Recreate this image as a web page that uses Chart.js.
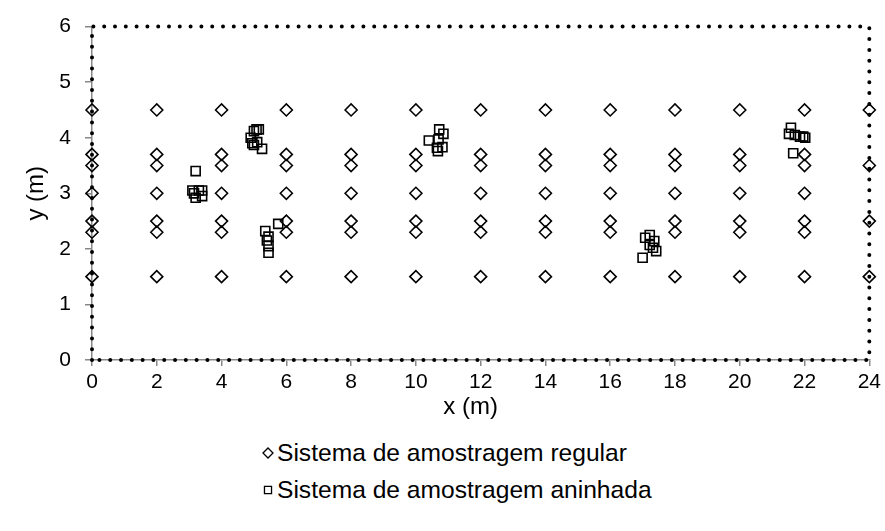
<!DOCTYPE html>
<html>
<head>
<meta charset="utf-8">
<script src="https://cdn.jsdelivr.net/npm/chart.js@4"></script>
<style>
  body { margin: 0; background: #fff; }
  #wrap { position: relative; width: 885px; height: 531px; }
  #legenda { position: absolute; left: 262px; top: 434px; font-family: "Liberation Sans", Arial, sans-serif; font-size: 24.6px; color: #000; }
  #legenda div { height: 37px; line-height: 37px; white-space: nowrap; }
  #legenda canvas { vertical-align: middle; margin-right: 3px; position: relative; top: -2px; }
</style>
</head>
<body>
<div id="wrap">
  <canvas id="grafico" width="885" height="430"></canvas>
  <div id="legenda"></div>
</div>
<script>
// posicoes do sistema regular (malha)
const colunasX = [0, 2, 4, 6, 8, 10, 12, 14, 16, 18, 20, 22];
const linhasY = [1.5, 2.3, 2.5, 3.0, 3.5, 3.7, 4.5];
const colunaBordaX = 24;
const linhasBordaY = [1.5, 2.5, 3.5, 4.5];

// sistema aninhado
const aninhadaX = [
  3.20, 3.10, 3.20, 3.30, 3.40, 3.15, 3.40,
  5.00, 5.08, 5.15, 4.90, 4.95, 5.00, 5.10, 5.25,
  5.35, 5.75, 5.45, 5.40, 5.45, 5.45,
  10.40, 10.72, 10.85, 10.70, 10.65, 10.82, 10.68,
  17.00, 17.08, 17.22, 17.36, 17.22, 17.32, 17.42,
  21.58, 21.52, 21.70, 21.86, 21.96, 22.02, 21.65
];
const aninhadaY = [
  3.40, 3.05, 2.92, 3.05, 2.95, 3.00, 3.05,
  4.12, 4.15, 4.15, 4.00, 3.90, 3.87, 3.92, 3.80,
  2.32, 2.45, 2.22, 2.15, 2.05, 1.93,
  3.95, 4.15, 4.07, 3.97, 3.82, 3.83, 3.76,
  1.84, 2.20, 2.25, 2.14, 2.07, 2.02, 1.96,
  4.18, 4.07, 4.05, 4.02, 4.02, 4.00, 3.72
];

const rotulos = ['Sistema de amostragem regular', 'Sistema de amostragem aninhada'];
const ticksX = [0, 24, 2];
const ticksY = [0, 6, 1];

const pontosRegular = [];
colunasX.forEach(x => linhasY.forEach(y => pontosRegular.push({x: x, y: y})));
linhasBordaY.forEach(y => pontosRegular.push({x: colunaBordaX, y: y}));
const pontosAninhada = aninhadaX.map((x, i) => ({x: x, y: aninhadaY[i]}));

const fonte = '"Liberation Sans", Arial, sans-serif';

// borda pontilhada da area do grafico
const bordaPontilhada = {
  id: 'bordaPontilhada',
  afterDatasetsDraw(chart) {
    const a = chart.chartArea;
    const ctx = chart.ctx;
    ctx.save();
    ctx.strokeStyle = '#000';
    ctx.lineWidth = 4;
    ctx.lineCap = 'round';
    ctx.setLineDash([0, 10.8]);
    ctx.beginPath();
    ctx.moveTo(a.left, a.bottom);
    ctx.lineTo(a.left, a.top);
    ctx.lineTo(a.right, a.top);
    ctx.lineTo(a.right, a.bottom);
    ctx.lineTo(a.left, a.bottom);
    ctx.stroke();
    ctx.restore();
  }
};

const ctx = document.getElementById('grafico').getContext('2d');
const grafico = new Chart(ctx, {
  type: 'scatter',
  data: {
    datasets: [
      {
        label: rotulos[0],
        data: pontosRegular,
        pointStyle: 'rectRot',
        pointRadius: 6,
        borderColor: '#000',
        backgroundColor: 'rgba(0,0,0,0)',
        borderWidth: 1.6,
        clip: false
      },
      {
        label: rotulos[1],
        data: pontosAninhada,
        pointStyle: 'rect',
        pointRadius: 6.4,
        borderColor: '#000',
        backgroundColor: 'rgba(0,0,0,0)',
        borderWidth: 1.6,
        clip: false
      }
    ]
  },
  plugins: [bordaPontilhada],
  options: {
    responsive: false,
    animation: false,
    layout: { padding: { top: 24, right: 15, left: 22, bottom: 8 } },
    plugins: { legend: { display: false }, tooltip: { enabled: false } },
    scales: {
      x: {
        type: 'linear',
        min: ticksX[0], max: ticksX[1],
        ticks: { stepSize: ticksX[2], color: '#000', font: { family: fonte, size: 21 }, padding: 4, maxRotation: 0 },
        grid: { drawOnChartArea: false, drawTicks: true, tickLength: 6, color: '#888', lineWidth: 1.5 },
        border: { display: true, color: '#888', width: 1.5 },
        // espacos no fim deslocam o titulo um pouco para a esquerda, como no original
        title: { display: true, text: 'x (m)   ', color: '#000', font: { family: fonte, size: 24 }, padding: { top: 6, bottom: 0 } },
        afterFit(s) { s.height = 62; }
      },
      y: {
        type: 'linear',
        min: ticksY[0], max: ticksY[1],
        ticks: { stepSize: ticksY[2], color: '#000', font: { family: fonte, size: 21 }, padding: 14 },
        grid: { drawOnChartArea: false, drawTicks: true, tickLength: 7, color: '#888', lineWidth: 1.5 },
        border: { display: true, color: '#888', width: 1.5 },
        title: { display: true, text: 'y (m)', color: '#000', font: { family: fonte, size: 24 }, padding: { top: 0, bottom: 0 } },
        afterFit(s) { s.width = 70; }
      }
    }
  }
});

// legenda em duas linhas
const legenda = document.getElementById('legenda');
grafico.data.datasets.forEach(ds => {
  const linha = document.createElement('div');
  const c = document.createElement('canvas');
  c.width = 12; c.height = 12;
  const g = c.getContext('2d');
  g.strokeStyle = '#000';
  g.fillStyle = 'rgba(0,0,0,0)';
  g.lineWidth = 1.3;
  Chart.helpers.drawPoint(g, { pointStyle: ds.pointStyle, radius: 5, rotation: 0, borderWidth: 1.3 }, 6, 6);
  linha.appendChild(c);
  linha.appendChild(document.createTextNode(ds.label));
  legenda.appendChild(linha);
});
</script>
</body>
</html>
